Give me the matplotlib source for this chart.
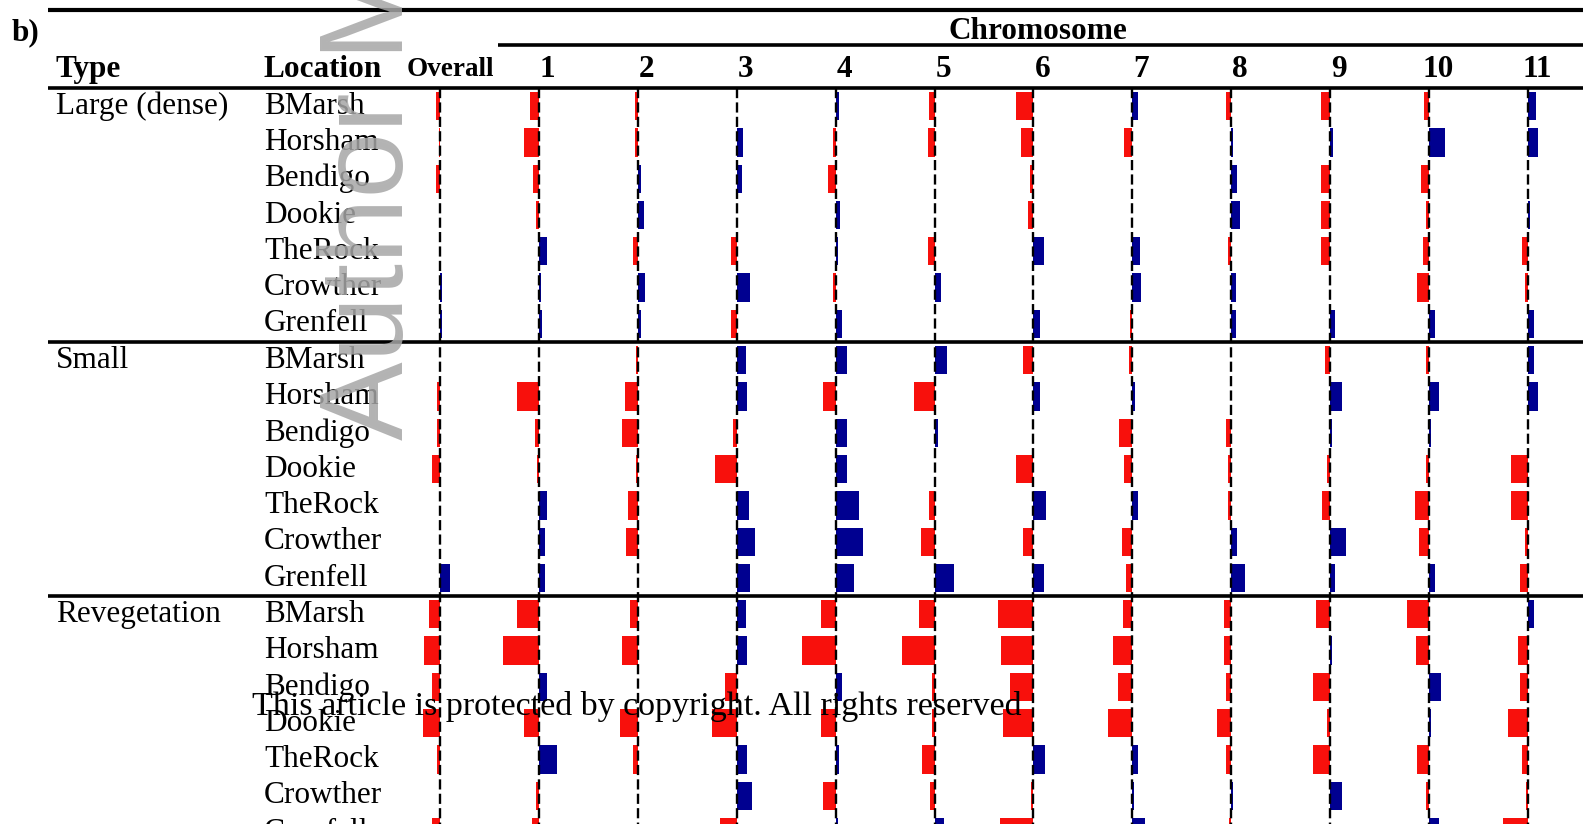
import matplotlib.pyplot as plt

plt.rcParams['font.family'] = ['Liberation Serif', 'DejaVu Serif']

#%% data, one row per location: Overall, chr 1..11
locations = ['BMarsh', 'Horsham', 'Bendigo', 'Dookie', 'TheRock', 'Crowther', 'Grenfell']
types = ['Large (dense)', 'Small', 'Revegetation']
columns = ['Overall', '1', '2', '3', '4', '5', '6', '7', '8', '9', '10', '11']

large = [
    [-4, -9, -3, 0, 3, -6, -17, 6, -5, -9, -5, 8],
    [-1, -15, -3, 6, -3, -7, -12, -8, 2, 3, 16, 10],
    [-4, -6, 3, 5, -8, 0, -3, 0, 6, -9, -8, 0],
    [0, -3, 6, 0, 4, 0, -5, 0, 9, -9, -3, 2],
    [0, 8, -5, -6, 2, -7, 11, 8, -3, -9, -6, -6],
    [2, 2, 7, 13, -3, 6, 0, 9, 5, 0, -12, -3],
    [2, 3, 3, -6, 6, 0, 7, -2, 5, 5, 6, 6],
]
small = [
    [0, 0, -2, 9, 11, 12, -10, -3, 0, -5, -3, 6],
    [-3, -22, -13, 10, -13, -21, 7, 3, 0, 12, 10, 10],
    [-3, -4, -16, -4, 11, 3, 0, -13, -5, 2, 2, 0],
    [-8, -2, -2, -22, 11, 0, -17, -8, -3, -3, -3, -17],
    [0, 8, -10, 12, 23, -6, 13, 6, -3, -8, -14, -17],
    [0, 6, -12, 18, 27, -14, -10, -10, 6, 16, -10, -3],
    [10, 6, 0, 13, 18, 19, 11, -6, 14, 5, 6, -8],
]
reveg = [
    [-11, -22, -8, 9, -15, -16, -35, -9, -7, -14, -22, 6],
    [-16, -36, -16, 10, -34, -33, -32, -19, -7, 2, -13, -10],
    [-8, 8, 0, -12, 6, -3, -23, -14, -5, -17, 12, -8],
    [-17, -15, -18, -25, -15, -3, -30, -24, -14, -3, 2, -20],
    [-3, 18, -5, 10, 3, -13, 12, 6, -5, -17, -12, -6],
    [0, -3, 0, 15, -13, -5, -2, 2, 2, 12, -3, -2],
    [-8, -7, 0, -17, 2, 9, -33, 13, -2, 0, 10, -25],
]

#%% layout
fig = plt.figure(figsize=(15.83, 8.24), dpi=100)
ax = fig.add_axes([0, 0, 1, 1])
ax.axis('off')
ax.set_xlim(-4.449, 11.557)
ax.set_ylim(19.776, -2.924)

red = '#f8100c'
blue = '#000090'
scale = 98.9  # bar units per column spacing

rows = [large, small, reveg]
r = 0
for g, block in enumerate(rows):
    ax.text(-3.883, r, types[g], fontsize=22.5, va='center', ha='left')
    for i, vals in enumerate(block):
        ax.text(-1.78, r, locations[i], fontsize=22.5, va='center', ha='left')
        for k, v in enumerate(vals):
            ax.barh(r, v / scale, left=k, height=0.78,
                    color=red if v < 0 else blue, zorder=2)
        r += 1

# dashed baselines
ax.vlines(range(len(columns)), -0.5, 21, colors='k', lw=1.7,
          linestyles=(0, (4.3, 1.8)), zorder=3)

# rules
ax.hlines([-2.649], -3.964, 11.6, colors='k', lw=3.0)
ax.hlines([-1.671], 0.586, 11.6, colors='k', lw=2.6)
ax.hlines([-0.5, 6.5, 13.5], -3.964, 11.6, colors='k', lw=2.6)

# header
ax.text(-4.328, -2.03, 'b)', fontsize=22.5, fontweight='bold', va='center')
ax.text(6.05, -2.06, 'Chromosome', fontsize=22.5, fontweight='bold', va='center', ha='center')
ax.text(-3.883, -1.0, 'Type', fontsize=22.5, fontweight='bold', va='center')
ax.text(-1.78, -1.0, 'Location', fontsize=22.5, fontweight='bold', va='center')
ax.text(0.1, -1.0, columns[0], fontsize=19.5, fontweight='bold', va='center', ha='center')
for k, c in enumerate(columns[1:], start=1):
    ax.text(k + 0.09, -1.0, c, fontsize=22.5, fontweight='bold', va='center', ha='center')

# watermarks
ax.text(-0.374, 9.197, 'Author Manuscript', fontsize=85, family='Liberation Sans',
        rotation=90, rotation_mode='anchor', ha='left', va='baseline',
        color='#a6a6a6', alpha=0.85, zorder=10)
ax.text(-1.901, 16.55, 'This article is protected by copyright. All rights reserved',
        fontsize=24.5, va='center', ha='left', zorder=11)

plt.savefig('out.png', dpi=100)
